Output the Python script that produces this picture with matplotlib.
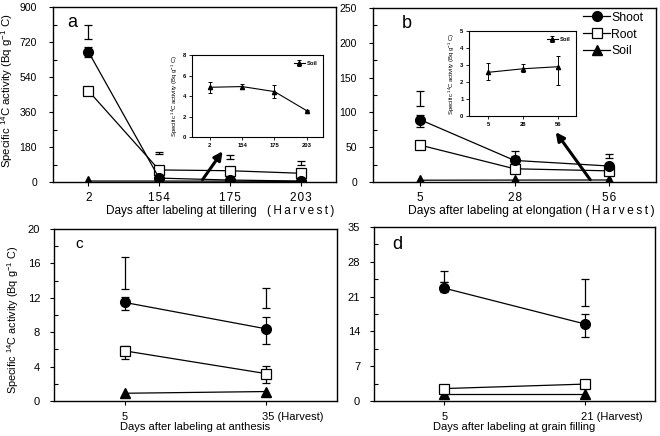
import matplotlib
matplotlib.use('Agg')
import matplotlib.pyplot as plt
import matplotlib.transforms as mtrans
from matplotlib.ticker import AutoMinorLocator, FixedLocator

plt.rcParams['font.family'] = ['Liberation Sans', 'DejaVu Sans']
plt.rcParams['mathtext.default'] = 'regular'

# panel a: tillering
a_days = ['2', '154', '175', '203']
a_shoot = [670, 20, 10, 5]
a_shoot_err = [25, 0, 0, 0]
a_root = [469, 62, 58, 45]
a_soil = [4.9, 4.9, 4.4, 2.6]
a_extra_lo = [738, 142, 117, 87]
a_extra_hi = [807, 156, 139, 108]
a_ins_soil = [4.85, 4.92, 4.43, 2.56]
a_ins_lo = [0.51, 0.26, 0.64, 0.05]
a_ins_hi = [0.55, 0.26, 0.65, 0.05]

# panel b: elongation
b_days = ['5', '28', '56']
b_shoot = [89.5, 31, 23]
b_shoot_lo = [11, 4, 4]
b_shoot_hi = [7, 4, 4]
b_root = [53, 19, 16]
b_root_err = [3, 3, 3]
b_soil = [2.57, 2.78, 2.9]
b_extra_lo = [109, 37, 34]
b_extra_hi = [131, 45, 40]
b_ins_soil = [2.57, 2.78, 2.9]
b_ins_lo = [0.47, 0.21, 1.1]
b_ins_hi = [0.53, 0.30, 0.65]

# panel c: anthesis
c_days = ['5', '35 (Harvest)']
c_shoot = [11.46, 8.39]
c_shoot_lo = [0.9, 1.8]
c_shoot_hi = [0.65, 1.4]
c_root = [5.83, 3.18]
c_root_lo = [0.9, 1.1]
c_root_hi = [0.6, 0.9]
c_soil = [0.9, 1.1]
c_extra_lo = [13.05, 10.8]
c_extra_hi = [16.8, 13.1]

# panel d: grain filling
d_days = ['5', '21 (Harvest)']
d_shoot = [22.7, 15.5]
d_shoot_lo = [0.8, 2.6]
d_shoot_hi = [1.2, 2.1]
d_root = [2.5, 3.4]
d_root_err = [0.4, 0.7]
d_soil = [1.4, 1.4]
d_extra_lo = [23.9, 19.2]
d_extra_hi = [26.1, 24.6]

YLABEL = 'Specific $^{14}$C activity (Bq g$^{-1}$ C)'


def spaced(s, sep='\u200a'):
    return sep.join(s)


def style_axes(ax, ymax, ystep, tick_fs, pad):
    ax.set_ylim(0, ymax)
    ax.yaxis.set_major_locator(FixedLocator([i * ystep for i in range(int(round(ymax / ystep)) + 1)]))
    ax.yaxis.set_minor_locator(AutoMinorLocator(2))
    for sp in ax.spines.values():
        sp.set_linewidth(1.0)
    ax.tick_params(axis='y', which='major', direction='out', length=3, width=0.8, labelsize=tick_fs, pad=pad)
    ax.tick_params(axis='y', which='minor', direction='in', length=3, width=0.8)
    ax.tick_params(axis='x', which='major', direction='out', length=3, width=0.8, pad=4)


def draw_series(ax, x, shoot, shoot_err, root, root_err, soil):
    kw = dict(color='k', lw=0.9, capsize=3, elinewidth=0.9, capthick=0.9, ms=7)
    so = ax.errorbar(x, soil, fmt='-^', mfc='k', mec='k', zorder=3, **kw)
    ro = ax.errorbar(x, root, yerr=root_err, fmt='-s', mfc='white', mec='k', mew=0.9, zorder=4, **kw)
    sh = ax.errorbar(x, shoot, yerr=shoot_err, fmt='-o', mfc='k', mec='k', zorder=5, **kw)
    return sh, ro, so


def floating(ax, x, lo, hi):
    mid = [(l + h) / 2 for l, h in zip(lo, hi)]
    half = [(h - l) / 2 for l, h in zip(lo, hi)]
    ax.errorbar(x, mid, yerr=half, fmt='none', ecolor='k', elinewidth=0.9, capsize=3, capthick=0.9)


def inset(ax, labels, vals, lo, hi, ymax):
    x = list(range(len(labels)))
    ax.errorbar(x, vals, yerr=[lo, hi], fmt='-^', color='k', ms=3, lw=0.8,
                elinewidth=0.7, capsize=1.5, capthick=0.7, label='Soil')
    ax.set_ylim(0, ymax)
    ax.set_xlim(-0.55, len(labels) - 0.5)
    ax.set_xticks(x)
    ax.set_xticklabels(labels, fontsize=4.2, fontweight='bold')
    ax.yaxis.set_major_locator(FixedLocator(list(range(0, ymax + 1, 2 if ymax > 5 else 1))))
    ax.tick_params(axis='y', labelsize=4.2, length=2, width=0.6, pad=2)
    ax.tick_params(axis='x', length=2, width=0.6, pad=2)
    for t in ax.get_yticklabels():
        t.set_fontweight('bold')
    for sp in ax.spines.values():
        sp.set_linewidth(0.8)
    ax.set_ylabel(YLABEL, fontsize=4.3, labelpad=2)
    leg = ax.legend(loc='upper right', frameon=False, fontsize=4.2, handlelength=1.8,
                    handletextpad=0.3, borderaxespad=0.6)
    for t in leg.get_texts():
        t.set_fontweight('bold')


fig = plt.figure(figsize=(6.6, 4.36), dpi=100)
W, H = 660.0, 436.0


def box(x0, y0, x1, y1):
    return [x0 / W, 1 - y1 / H, (x1 - x0) / W, (y1 - y0) / H]


ax_a = fig.add_axes(box(53, 7, 336, 182))
ax_b = fig.add_axes(box(373, 8, 656, 182))
ax_c = fig.add_axes(box(54, 229, 337, 401))
ax_d = fig.add_axes(box(374, 227, 655, 401))

# ---- panel a
xa = list(range(len(a_days)))
draw_series(ax_a, xa, a_shoot, a_shoot_err, a_root, None, a_soil)
floating(ax_a, xa, a_extra_lo, a_extra_hi)
style_axes(ax_a, 900, 180, 7.5, 8.5)
ax_a.set_xlim(-0.5, 3.5)
ax_a.set_xticks(xa)
ax_a.set_xticklabels([spaced(d) for d in a_days], fontsize=8.5)
ax_a.text(0.452, -0.165, 'Days after labeling at tillering', transform=ax_a.transAxes,
          ha='center', va='center', fontsize=8.5)
ax_a.text(0.875, -0.165, spaced('(Harvest)', '\u2009'), transform=ax_a.transAxes,
          ha='center', va='center', fontsize=8.5)
ax_a.text(0.05, 0.91, 'a', transform=ax_a.transAxes, fontsize=13, va='center')
ax_a.annotate('', xy=(1.92, 170), xytext=(1.59, 0),
              arrowprops=dict(arrowstyle='-|>,head_length=0.5,head_width=0.25', color='k', lw=2.2))

ins_a = fig.add_axes(box(192, 55, 323, 137))
inset(ins_a, a_days, a_ins_soil, a_ins_lo, a_ins_hi, 8)

# ---- panel b
xb = list(range(len(b_days)))
handles = draw_series(ax_b, xb, b_shoot, [b_shoot_lo, b_shoot_hi], b_root, b_root_err, b_soil)
floating(ax_b, xb, b_extra_lo, b_extra_hi)
style_axes(ax_b, 250, 50, 7.5, 8.5)
ax_b.set_xlim(-0.5, 2.5)
ax_b.set_xticks(xb)
ax_b.set_xticklabels([spaced(d) for d in b_days], fontsize=8.5)
ax_b.text(0.56, -0.165, 'Days after labeling at elongation ' + spaced('(Harvest)', '\u2009'),
          transform=ax_b.transAxes, ha='center', va='center', fontsize=8.7)
ax_b.text(0.1, 0.91, 'b', transform=ax_b.transAxes, fontsize=13, va='center')
ax_b.annotate('', xy=(1.42, 75), xytext=(1.82, 0),
              arrowprops=dict(arrowstyle='-|>,head_length=0.5,head_width=0.25', color='k', lw=2.2))
ax_b.legend([handles[0][0], handles[1][0], handles[2][0]], ['Shoot', 'Root', 'Soil'], loc='upper left',
            bbox_to_anchor=(0.73, 1.0), frameon=False, fontsize=8.8, handlelength=2.2,
            handletextpad=0.1, labelspacing=0.4, borderaxespad=0.1, borderpad=0.2)

ins_b = fig.add_axes(box(469, 31, 576, 116))
inset(ins_b, b_days, b_ins_soil, b_ins_lo, b_ins_hi, 5)

# ---- panel c
xc = [0, 1]
draw_series(ax_c, xc, c_shoot, [c_shoot_lo, c_shoot_hi], c_root, [c_root_lo, c_root_hi], c_soil)
floating(ax_c, xc, c_extra_lo, c_extra_hi)
style_axes(ax_c, 20, 4, 8, 7)
ax_c.set_xlim(-0.5, 1.5)
ax_c.set_xticks(xc)
ax_c.set_xticklabels(c_days, fontsize=8)
ax_c.tick_params(axis='x', pad=5)
ax_c.set_xlabel('Days after labeling at anthesis', fontsize=8, labelpad=0)
ax_c.text(0.075, 0.91, 'c', transform=ax_c.transAxes, fontsize=11, va='center')

# ---- panel d
xd = [0, 1]
draw_series(ax_d, xd, d_shoot, [d_shoot_lo, d_shoot_hi], d_root, d_root_err, d_soil)
floating(ax_d, xd, d_extra_lo, d_extra_hi)
style_axes(ax_d, 35, 7, 8, 7)
ax_d.set_xlim(-0.5, 1.5)
ax_d.set_xticks(xd)
ax_d.set_xticklabels(d_days, fontsize=8)
ax_d.tick_params(axis='x', pad=5)
ax_d.set_xlabel('Days after labeling at grain filling', fontsize=8, labelpad=0)
ax_d.text(0.065, 0.9, 'd', transform=ax_d.transAxes, fontsize=13, va='center')

for ax in (ax_c, ax_d):
    lab = ax.get_xticklabels()[1]
    lab.set_ha('left')
    lab.set_transform(lab.get_transform() + mtrans.ScaledTranslation(-0.04, 0, fig.dpi_scale_trans))

fig.text(7.5 / W, 1 - 91 / H, YLABEL, rotation=90, ha='center', va='center', fontsize=8.2)
fig.text(13 / W, 1 - 320 / H, YLABEL, rotation=90, ha='center', va='center', fontsize=7.8)

fig.savefig('out.png', dpi=100)
